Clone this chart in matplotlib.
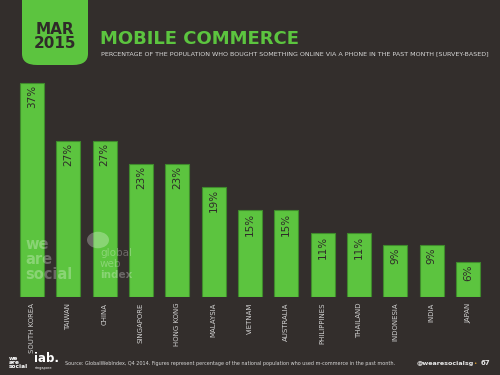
import matplotlib
matplotlib.use("Agg")
import matplotlib.pyplot as plt
from matplotlib.patches import FancyBboxPatch

countries = ["SOUTH KOREA", "TAIWAN", "CHINA", "SINGAPORE", "HONG KONG", "MALAYSIA",
             "VIETNAM", "AUSTRALIA", "PHILIPPINES", "THAILAND", "INDONESIA", "INDIA", "JAPAN"]
values = [37, 27, 27, 23, 23, 19, 15, 15, 11, 11, 9, 9, 6]
value_labels = ["37%", "27%", "27%", "23%", "23%", "19%", "15%", "15%", "11%", "11%", "9%", "9%", "6%"]

bg = "#332e2c"
green = "#5cc43f"
edge = "#3f8a2c"
dark = "#2f2b29"
W, H = 500, 375

fig = plt.figure(figsize=(5, 3.75), dpi=100, facecolor=bg)

# pixel helper for figure coords
def fx(px):
    return px / W

def fy(py):
    return 1 - py / H

# header box
box = FancyBboxPatch((fx(22), fy(65)), fx(88) - fx(22), 0.25,
                     boxstyle="round,pad=0,rounding_size=0.03",
                     transform=fig.transFigure, facecolor=green, edgecolor="none")
fig.patches.append(box)
fig.text(fx(55), fy(29), "MAR", ha="center", va="center", fontsize=11,
         fontweight="bold", color=dark, family="DejaVu Sans")
fig.text(fx(55), fy(44), "2015", ha="center", va="center", fontsize=11,
         fontweight="bold", color=dark, family="DejaVu Sans")
fig.text(fx(100), fy(39), "MOBILE COMMERCE", ha="left", va="center", fontsize=13,
         fontweight="bold", color=green, family="DejaVu Sans")
fig.text(fx(101), fy(54), "PERCENTAGE OF THE POPULATION WHO BOUGHT SOMETHING ONLINE VIA A PHONE IN THE PAST MONTH [SURVEY-BASED]",
         ha="left", va="center", fontsize=4.6, color="#d8d8d8", family="DejaVu Sans")

# chart
step = 36.33
c0 = 32
ax = fig.add_axes([0, fy(297), 1, (297 - 80) / H])
ax.set_facecolor("none")
x = list(range(len(values)))
ax.bar(x, values, width=24 / step, color=green, edgecolor=edge, linewidth=0.8)
ax.set_xlim(-c0 / step, (W - c0) / step)
ax.set_ylim(0, 37.55)
ax.axis("off")

for i, v in enumerate(values):
    ax.annotate(value_labels[i], (i, v), xytext=(0, -1.5), textcoords="offset points",
                rotation=90, ha="center", va="top", fontsize=7.5, color=dark,
                family=["Liberation Sans Narrow", "DejaVu Sans"])
    ax.annotate(countries[i], (i, 0), xytext=(0, -4), textcoords="offset points",
                rotation=90, ha="center", va="top", fontsize=5, color="#d0d0d0",
                family="DejaVu Sans")

# watermarks
wm = dict(color="white", alpha=0.28)
fig.text(fx(25), fy(249), "we", ha="left", va="baseline", fontsize=10.5, fontweight="bold", **wm)
fig.text(fx(25), fy(264), "are", ha="left", va="baseline", fontsize=10.5, fontweight="bold", **wm)
fig.text(fx(25), fy(279), "social", ha="left", va="baseline", fontsize=10.5, fontweight="bold", **wm)
fig.patches.append(plt.Circle((fx(98), fy(240)), 11 / W, transform=fig.transFigure,
                              facecolor="white", edgecolor="none", alpha=0.28))
fig.text(fx(100), fy(256), "global", ha="left", va="baseline", fontsize=7.5, **wm)
fig.text(fx(100), fy(267), "web", ha="left", va="baseline", fontsize=7.5, **wm)
fig.text(fx(100), fy(278), "index", ha="left", va="baseline", fontsize=7.5, fontweight="bold", **wm)

# footer
fig.text(fx(9), fy(362), "we\nare\nsocial", ha="left", va="center", fontsize=4.2,
         fontweight="bold", color="white", linespacing=0.75)
fig.text(fx(34), fy(359), "iab.", ha="left", va="center", fontsize=8.5,
         fontweight="bold", color="white")
fig.text(fx(35), fy(368), "singapore", ha="left", va="center", fontsize=2.5, color="white")
fig.text(fx(65), fy(363), "Source: GlobalWebIndex, Q4 2014. Figures represent percentage of the national population who used m-commerce in the past month.",
         ha="left", va="center", fontsize=3.5, color="#d8d8d8")
fig.text(fx(417), fy(363), "@wearesocialsg", ha="left", va="center", fontsize=4.6,
         fontweight="bold", color="#e8e8e8")
fig.text(fx(475), fy(363), "\u2022", ha="center", va="center", fontsize=4, color="#e0a030")
fig.text(fx(490), fy(363), "67", ha="right", va="center", fontsize=5,
         fontweight="bold", color="#e8e8e8")

fig.savefig("out.png", dpi=100, facecolor=bg)
